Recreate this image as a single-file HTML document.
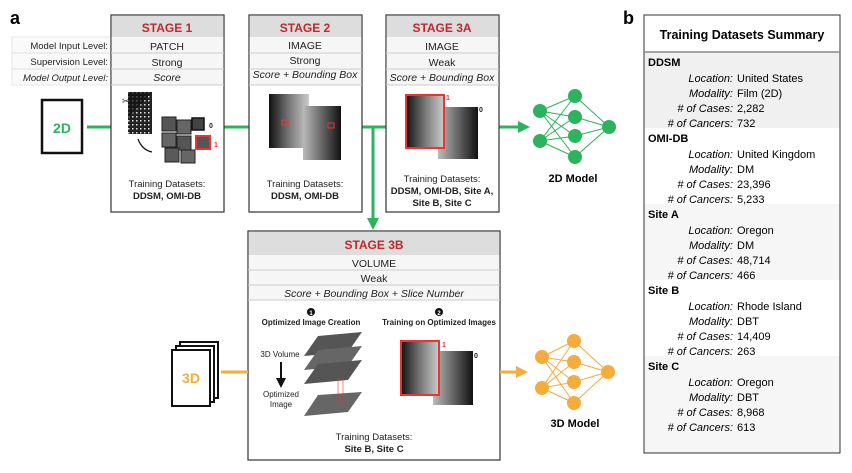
<!DOCTYPE html>
<html><head><meta charset="utf-8"><style>
body{margin:0;width:852px;height:468px;background:#fff;font-family:"Liberation Sans",sans-serif;overflow:hidden}
</style></head><body>
<svg width="852" height="468" xmlns="http://www.w3.org/2000/svg" font-family="Liberation Sans, sans-serif">
<defs>
<linearGradient id="br" x1="0" x2="1"><stop offset="0" stop-color="#111"/><stop offset="0.5" stop-color="#777"/><stop offset="1" stop-color="#ccc"/></linearGradient>
<linearGradient id="br2" x1="1" x2="0"><stop offset="0" stop-color="#111"/><stop offset="0.5" stop-color="#666"/><stop offset="1" stop-color="#bbb"/></linearGradient>
<pattern id="dots" width="4" height="4" patternUnits="userSpaceOnUse"><rect width="4" height="4" fill="#222"/><rect width="1.5" height="1.5" fill="#ddd"/></pattern>
</defs>
<text x="10" y="24" font-size="18" font-weight="bold">a</text>
<text x="623" y="24" font-size="18" font-weight="bold">b</text>

<g stroke="#2db35d" stroke-width="3" fill="none">
<line x1="87" y1="127" x2="111" y2="127"/><line x1="224" y1="127" x2="249" y2="127"/>
<line x1="362" y1="127" x2="386" y2="127"/><line x1="499" y1="127" x2="520" y2="127"/>
<line x1="373" y1="127" x2="373" y2="220"/>
</g>
<polygon points="518,121 530,127 518,133" fill="#2db35d"/>
<polygon points="367,218 373,230 379,218" fill="#2db35d"/>
<rect x="42" y="100" width="40" height="53" fill="#fff" stroke="#111" stroke-width="2.5"/>
<text x="62" y="133" font-size="14" font-weight="bold" fill="#2db35d" text-anchor="middle">2D</text>

<g font-size="9.5" fill="#222" text-anchor="end">
<rect x="12" y="37" width="99" height="48" fill="#fafafa" stroke="#ddd" stroke-width="0.6"/>
<line x1="12" y1="53" x2="111" y2="53" stroke="#ddd"/><line x1="12" y1="69" x2="111" y2="69" stroke="#ddd"/>
<text x="108" y="49">Model Input Level:</text>
<text x="108" y="65">Supervision Level:</text>
<text x="108" y="81" font-style="italic">Model Output Level:</text>
</g>

<g font-size="10.5" text-anchor="middle" fill="#222">
<rect x="111" y="15" width="113" height="197" fill="#fff" stroke="#333" stroke-width="1.2"/>
<rect x="111.6" y="15.6" width="111.8" height="22" fill="#ddd"/>
<rect x="111.6" y="37" width="111.8" height="48" fill="#f6f6f6"/>
<line x1="111" y1="53" x2="224" y2="53" stroke="#ccc"/><line x1="111" y1="69" x2="224" y2="69" stroke="#ccc"/><line x1="111" y1="85" x2="224" y2="85" stroke="#ccc"/>
<text x="167" y="32" font-size="12" font-weight="bold" fill="#c1272d">STAGE 1</text>
<text x="167" y="50">PATCH</text><text x="167" y="66">Strong</text><text x="167" y="81" font-style="italic">Score</text>
<rect x="128" y="92" width="24" height="42" fill="url(#dots)"/>
<polygon points="128,92 152,92 128,118" fill="#111" opacity="0.7"/>
<text x="122" y="104" font-size="9" text-anchor="start">✂</text>
<rect x="162" y="117" width="14" height="14" fill="#555" stroke="#222"/>
<rect x="177" y="120" width="14" height="14" fill="#666" stroke="#222"/>
<rect x="162" y="133" width="14" height="14" fill="#666" stroke="#222"/>
<rect x="177" y="136" width="14" height="14" fill="#555" stroke="#222"/>
<rect x="165" y="148" width="14" height="14" fill="#5a5a5a" stroke="#222"/>
<rect x="181" y="150" width="14" height="13" fill="#666" stroke="#222"/>
<rect x="192" y="118" width="12" height="12" fill="#444" stroke="#111" stroke-width="1.5"/>
<rect x="196" y="136" width="14" height="13" fill="#555" stroke="#e33" stroke-width="2"/>
<text x="209" y="128" font-size="7" font-weight="bold" text-anchor="start">0</text>
<text x="214" y="147" font-size="7" font-weight="bold" fill="#e33" text-anchor="start">1</text>
<path d="M138,139 Q142,150 152,152" stroke="#111" fill="none" stroke-width="1.2"/>
<text x="167" y="187" font-size="9.5">Training Datasets:</text>
<text x="167" y="199" font-size="9.5" font-weight="bold">DDSM, OMI-DB</text>

<rect x="249" y="15" width="113" height="197" fill="#fff" stroke="#333" stroke-width="1.2"/>
<rect x="249.6" y="15.6" width="111.8" height="22" fill="#ddd"/>
<rect x="249.6" y="37" width="111.8" height="48" fill="#f6f6f6"/>
<line x1="249" y1="53" x2="362" y2="53" stroke="#ccc"/><line x1="249" y1="69" x2="362" y2="69" stroke="#ccc"/><line x1="249" y1="85" x2="362" y2="85" stroke="#ccc"/>
<text x="305" y="32" font-size="12" font-weight="bold" fill="#c1272d">STAGE 2</text>
<text x="305" y="49">IMAGE</text><text x="305" y="64">Strong</text><text x="305" y="78" font-style="italic">Score + Bounding Box</text>
<rect x="269" y="94" width="40" height="54" fill="url(#br)"/>
<rect x="303" y="106" width="38" height="54" fill="url(#br2)"/>
<rect x="282" y="120" width="6" height="5" fill="none" stroke="#e33"/>
<rect x="328" y="123" width="6" height="5" fill="none" stroke="#e33"/>
<text x="305" y="187" font-size="9.5">Training Datasets:</text>
<text x="305" y="199" font-size="9.5" font-weight="bold">DDSM, OMI-DB</text>

<rect x="386" y="15" width="113" height="197" fill="#fff" stroke="#333" stroke-width="1.2"/>
<rect x="386.6" y="15.6" width="111.8" height="22" fill="#ddd"/>
<rect x="386.6" y="37" width="111.8" height="48" fill="#f6f6f6"/>
<line x1="386" y1="53" x2="499" y2="53" stroke="#ccc"/><line x1="386" y1="69" x2="499" y2="69" stroke="#ccc"/><line x1="386" y1="85" x2="499" y2="85" stroke="#ccc"/>
<text x="442" y="32" font-size="12" font-weight="bold" fill="#c1272d">STAGE 3A</text>
<text x="442" y="50">IMAGE</text><text x="442" y="66">Weak</text><text x="442" y="81" font-style="italic">Score + Bounding Box</text>
<rect x="438" y="107" width="40" height="52" fill="url(#br2)"/>
<rect x="406" y="95" width="38" height="53" fill="url(#br)" stroke="#e33" stroke-width="2"/>
<text x="446" y="100" font-size="7" font-weight="bold" fill="#e33" text-anchor="start">1</text>
<text x="479" y="112" font-size="7" font-weight="bold" text-anchor="start">0</text>
<text x="442" y="182" font-size="9.5">Training Datasets:</text>
<text x="442" y="194" font-size="9.5" font-weight="bold">DDSM, OMI-DB, Site A,</text>
<text x="442" y="206" font-size="9.5" font-weight="bold">Site B, Site C</text>

<rect x="248" y="231" width="252" height="229" fill="#fff" stroke="#333" stroke-width="1.2"/>
<rect x="248.6" y="231.6" width="250.8" height="24" fill="#ddd"/>
<rect x="248.6" y="255" width="250.8" height="45" fill="#f6f6f6"/>
<line x1="248" y1="270" x2="500" y2="270" stroke="#ccc"/><line x1="248" y1="285" x2="500" y2="285" stroke="#ccc"/><line x1="248" y1="300" x2="500" y2="300" stroke="#ccc"/>
<text x="374" y="249" font-size="12" font-weight="bold" fill="#c1272d">STAGE 3B</text>
<text x="374" y="267">VOLUME</text><text x="374" y="282">Weak</text><text x="374" y="297" font-style="italic">Score + Bounding Box + Slice Number</text>
<circle cx="311" cy="312" r="4" fill="#111"/><text x="311" y="315" font-size="6" fill="#fff" font-weight="bold">1</text>
<circle cx="439" cy="312" r="4" fill="#111"/><text x="439" y="315" font-size="6" fill="#fff" font-weight="bold">2</text>
<text x="311" y="325" font-size="8" font-weight="bold">Optimized Image Creation</text>
<text x="439" y="325" font-size="8" font-weight="bold">Training on Optimized Images</text>
<text x="280" y="357" font-size="8">3D Volume</text>
<line x1="281" y1="362" x2="281" y2="380" stroke="#111" stroke-width="2"/>
<polygon points="276,378 281,388 286,378" fill="#111"/>
<text x="281" y="397" font-size="8">Optimized</text><text x="281" y="407" font-size="8">Image</text>
<polygon points="318,336 362,332 348,352 304,356" fill="#555"/>
<polygon points="318,350 362,346 348,366 304,370" fill="#666"/>
<polygon points="318,364 362,360 348,380 304,384" fill="#555"/>
<polygon points="318,395 362,392 348,412 304,416" fill="#666"/>
<line x1="338" y1="378" x2="338" y2="404" stroke="#e33" stroke-width="0.6"/>
<line x1="343" y1="378" x2="343" y2="404" stroke="#e33" stroke-width="0.6"/>
<rect x="433" y="351" width="40" height="54" fill="url(#br2)"/>
<rect x="401" y="341" width="38" height="54" fill="url(#br)" stroke="#e33" stroke-width="2"/>
<text x="442" y="347" font-size="7" font-weight="bold" fill="#e33" text-anchor="start">1</text>
<text x="474" y="358" font-size="7" font-weight="bold" text-anchor="start">0</text>
<text x="374" y="440" font-size="9.5">Training Datasets:</text>
<text x="374" y="452" font-size="9.5" font-weight="bold">Site B, Site C</text>
</g>

<line x1="221" y1="372" x2="248" y2="372" stroke="#f4ac3c" stroke-width="3"/>
<line x1="500" y1="372" x2="518" y2="372" stroke="#f4ac3c" stroke-width="3"/>
<polygon points="516,366 528,372 516,378" fill="#f4ac3c"/>
<rect x="180" y="342" width="38" height="56" fill="#fff" stroke="#111" stroke-width="2"/>
<rect x="176" y="346" width="38" height="56" fill="#fff" stroke="#111" stroke-width="2"/>
<rect x="172" y="350" width="38" height="56" fill="#fff" stroke="#111" stroke-width="2"/>
<text x="191" y="383" font-size="14" font-weight="bold" fill="#f4ac3c" text-anchor="middle">3D</text>

<g stroke="#2db35d" stroke-width="1">
<path d="M540,111L575,96M540,111L575,117M540,111L575,136M540,111L575,157M540,141L575,96M540,141L575,117M540,141L575,136M540,141L575,157M575,96L609,127M575,117L609,127M575,136L609,127M575,157L609,127"/>
</g>
<g fill="#2db35d"><circle cx="540" cy="111" r="7"/><circle cx="540" cy="141" r="7"/><circle cx="575" cy="96" r="7"/><circle cx="575" cy="117" r="7"/><circle cx="575" cy="136" r="7"/><circle cx="575" cy="157" r="7"/><circle cx="609" cy="127" r="7"/></g>
<text x="573" y="182" font-size="11" font-weight="bold" text-anchor="middle">2D Model</text>
<g stroke="#f4ac3c" stroke-width="1">
<path d="M542,357L574,341M542,357L574,362M542,357L574,382M542,357L574,403M542,388L574,341M542,388L574,362M542,388L574,382M542,388L574,403M574,341L608,372M574,362L608,372M574,382L608,372M574,403L608,372"/>
</g>
<g fill="#f4ac3c"><circle cx="542" cy="357" r="7"/><circle cx="542" cy="388" r="7"/><circle cx="574" cy="341" r="7"/><circle cx="574" cy="362" r="7"/><circle cx="574" cy="382" r="7"/><circle cx="574" cy="403" r="7"/><circle cx="608" cy="372" r="7"/></g>
<text x="575" y="427" font-size="11" font-weight="bold" text-anchor="middle">3D Model</text>

<rect x="644" y="52" width="196" height="76" fill="#f0f0f0"/>
<rect x="644" y="204" width="196" height="76" fill="#f6f6f6"/>
<rect x="644" y="356" width="196" height="97" fill="#f6f6f6"/>
<rect x="644" y="15" width="196" height="438" fill="none" stroke="#333" stroke-width="1"/>
<line x1="644" y1="52" x2="840" y2="52" stroke="#888" stroke-width="1.5"/>
<text x="742" y="39" font-size="12.5" font-weight="bold" text-anchor="middle">Training Datasets Summary</text>
<g font-size="11">
<g>
<text x="648" y="66" font-weight="bold">DDSM</text>
<text x="733" y="82" text-anchor="end" font-style="italic">Location:</text><text x="737" y="82">United States</text>
<text x="733" y="97" text-anchor="end" font-style="italic">Modality:</text><text x="737" y="97">Film (2D)</text>
<text x="733" y="112" text-anchor="end" font-style="italic"># of Cases:</text><text x="737" y="112">2,282</text>
<text x="733" y="127" text-anchor="end" font-style="italic"># of Cancers:</text><text x="737" y="127">732</text>
</g>
<g transform="translate(0,76)">
<text x="648" y="66" font-weight="bold">OMI-DB</text>
<text x="733" y="82" text-anchor="end" font-style="italic">Location:</text><text x="737" y="82">United Kingdom</text>
<text x="733" y="97" text-anchor="end" font-style="italic">Modality:</text><text x="737" y="97">DM</text>
<text x="733" y="112" text-anchor="end" font-style="italic"># of Cases:</text><text x="737" y="112">23,396</text>
<text x="733" y="127" text-anchor="end" font-style="italic"># of Cancers:</text><text x="737" y="127">5,233</text>
</g>
<g transform="translate(0,152)">
<text x="648" y="66" font-weight="bold">Site A</text>
<text x="733" y="82" text-anchor="end" font-style="italic">Location:</text><text x="737" y="82">Oregon</text>
<text x="733" y="97" text-anchor="end" font-style="italic">Modality:</text><text x="737" y="97">DM</text>
<text x="733" y="112" text-anchor="end" font-style="italic"># of Cases:</text><text x="737" y="112">48,714</text>
<text x="733" y="127" text-anchor="end" font-style="italic"># of Cancers:</text><text x="737" y="127">466</text>
</g>
<g transform="translate(0,228)">
<text x="648" y="66" font-weight="bold">Site B</text>
<text x="733" y="82" text-anchor="end" font-style="italic">Location:</text><text x="737" y="82">Rhode Island</text>
<text x="733" y="97" text-anchor="end" font-style="italic">Modality:</text><text x="737" y="97">DBT</text>
<text x="733" y="112" text-anchor="end" font-style="italic"># of Cases:</text><text x="737" y="112">14,409</text>
<text x="733" y="127" text-anchor="end" font-style="italic"># of Cancers:</text><text x="737" y="127">263</text>
</g>
<g transform="translate(0,304)">
<text x="648" y="66" font-weight="bold">Site C</text>
<text x="733" y="82" text-anchor="end" font-style="italic">Location:</text><text x="737" y="82">Oregon</text>
<text x="733" y="97" text-anchor="end" font-style="italic">Modality:</text><text x="737" y="97">DBT</text>
<text x="733" y="112" text-anchor="end" font-style="italic"># of Cases:</text><text x="737" y="112">8,968</text>
<text x="733" y="127" text-anchor="end" font-style="italic"># of Cancers:</text><text x="737" y="127">613</text>
</g>
</g>
</svg>
</body></html>
